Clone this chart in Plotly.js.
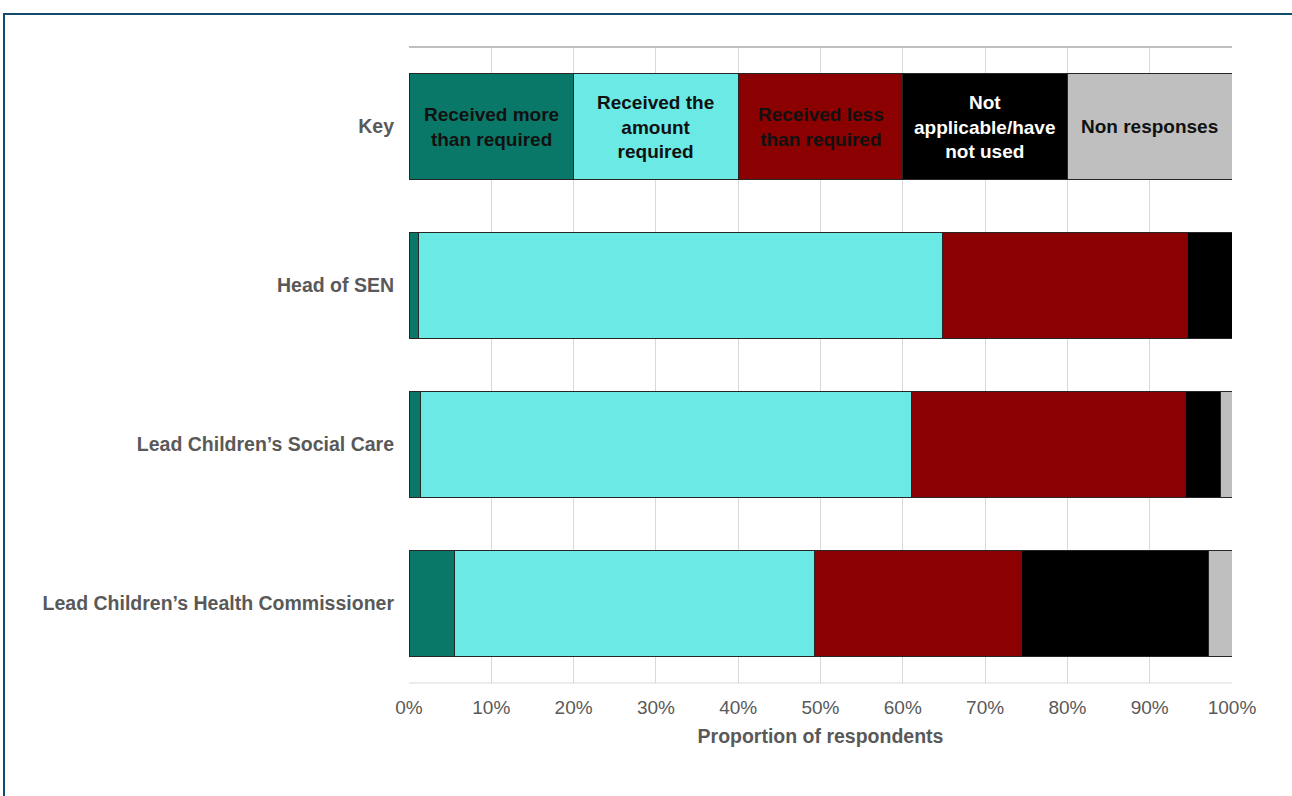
<!DOCTYPE html>
<html>
<head>
<meta charset="utf-8">
<script src="https://cdn.plot.ly/plotly-3.0.1.min.js"></script>
<style>
  html, body { margin: 0; padding: 0; background: #fff; }
  #wrap { position: relative; width: 1292px; height: 796px; overflow: hidden; }
  #chart { position: absolute; left: 0; top: 0; width: 1292px; height: 796px; }
  #frame { position: absolute; left: 3px; top: 13px; width: 1300px; height: 800px;
           border-top: 2px solid #0F4C6E; border-left: 2px solid #0F4C6E; pointer-events: none; }
</style>
</head>
<body>
<div id="wrap">
  <div id="chart"></div>
  <div id="frame"></div>
</div>
<script>
// Categories (top to bottom)
const categories = ["Key", "Head of SEN", "Lead Children’s Social Care", "Lead Children’s Health Commissioner"];

// Series names (legend shown in the "Key" bar)
const seriesNames = [
  "Received more than required",
  "Received the amount required",
  "Received less than required",
  "Not applicable/have not used",
  "Non responses"
];
const keyLabels = [
  "Received more<br>than required",
  "Received the<br>amount<br>required",
  "Received less<br>than required",
  "Not<br>applicable/have<br>not used",
  "Non responses"
];

// Key bar: equal shares
const keyShare = [20, 20, 20, 20, 20];

// Values (% of respondents) for Head of SEN, Social Care, Health Commissioner
const receivedMore   = [1.1, 1.35, 5.55];
const receivedAmount = [63.7, 59.75, 43.75];
const receivedLess   = [29.8, 33.2, 25.1];
const notApplicable  = [5.4, 4.3, 22.8];
const nonResponses   = [0.0, 1.4, 2.8];

const xTicks = [0, 10, 20, 30, 40, 50, 60, 70, 80, 90, 100];

const colors = ["#0A7869", "#6BE9E5", "#8B0000", "#000000", "#BFBFBF"];
const keyTextColors = ["#111111", "#111111", "#111111", "#FFFFFF", "#111111"];

const seriesValues = [receivedMore, receivedAmount, receivedLess, notApplicable, nonResponses];

const FONT = "Liberation Sans, Arial, sans-serif";

const traces = seriesValues.map((vals, i) => ({
  type: "bar",
  orientation: "h",
  name: seriesNames[i],
  y: categories,
  x: [keyShare[i]].concat(vals),
  marker: { color: colors[i], line: { color: "#262626", width: 1 } },
  hoverinfo: "x+name"
}));

// Key annotations at the centre of each key segment
const annotations = [];
let cum = 0;
keyShare.forEach((w, i) => {
  annotations.push({
    x: cum + w / 2, y: categories[0], xref: "x", yref: "y",
    text: "<b>" + keyLabels[i] + "</b>",
    showarrow: false,
    font: { family: FONT, size: 19, color: keyTextColors[i] },
    align: "center"
  });
  cum += w;
});

const layout = {
  width: 1292, height: 796,
  paper_bgcolor: "#ffffff", plot_bgcolor: "#ffffff",
  margin: { l: 409, r: 60, t: 47, b: 113 },
  barmode: "stack",
  bargap: 0.333,
  showlegend: false,
  font: { family: FONT, color: "#595959" },
  xaxis: {
    range: [0, 100],
    tickvals: xTicks,
    ticktext: xTicks.map(v => v + "%"),
    showgrid: true, gridcolor: "#D9D9D9", gridwidth: 1,
    zeroline: false, showline: false,
    ticks: "", ticklabelstandoff: 11,
    tickfont: { size: 19, color: "#595959" },
    title: { text: "<b>Proportion of respondents</b>", font: { size: 19.5, color: "#595959" }, standoff: 12 },
    fixedrange: true
  },
  yaxis: {
    autorange: "reversed",
    showgrid: false, zeroline: false,
    showline: false,
    ticks: "", ticklabelstandoff: 14,
    tickfont: { size: 19.5, color: "#595959" },
    tickvals: categories,
    ticktext: categories.map(c => "<b>" + c + "</b>"),
    fixedrange: true
  },
  shapes: [
    { type: "line", xref: "paper", yref: "paper", x0: 0, x1: 1, y0: 1, y1: 1, line: { color: "#BFBFBF", width: 2 } },
    { type: "line", xref: "paper", yref: "paper", x0: 0, x1: 1, y0: 0, y1: 0, line: { color: "#D9D9D9", width: 1 } }
  ],
  annotations: annotations
};

Plotly.newPlot("chart", traces, layout, { displayModeBar: false, staticPlot: true });
</script>
</body>
</html>
